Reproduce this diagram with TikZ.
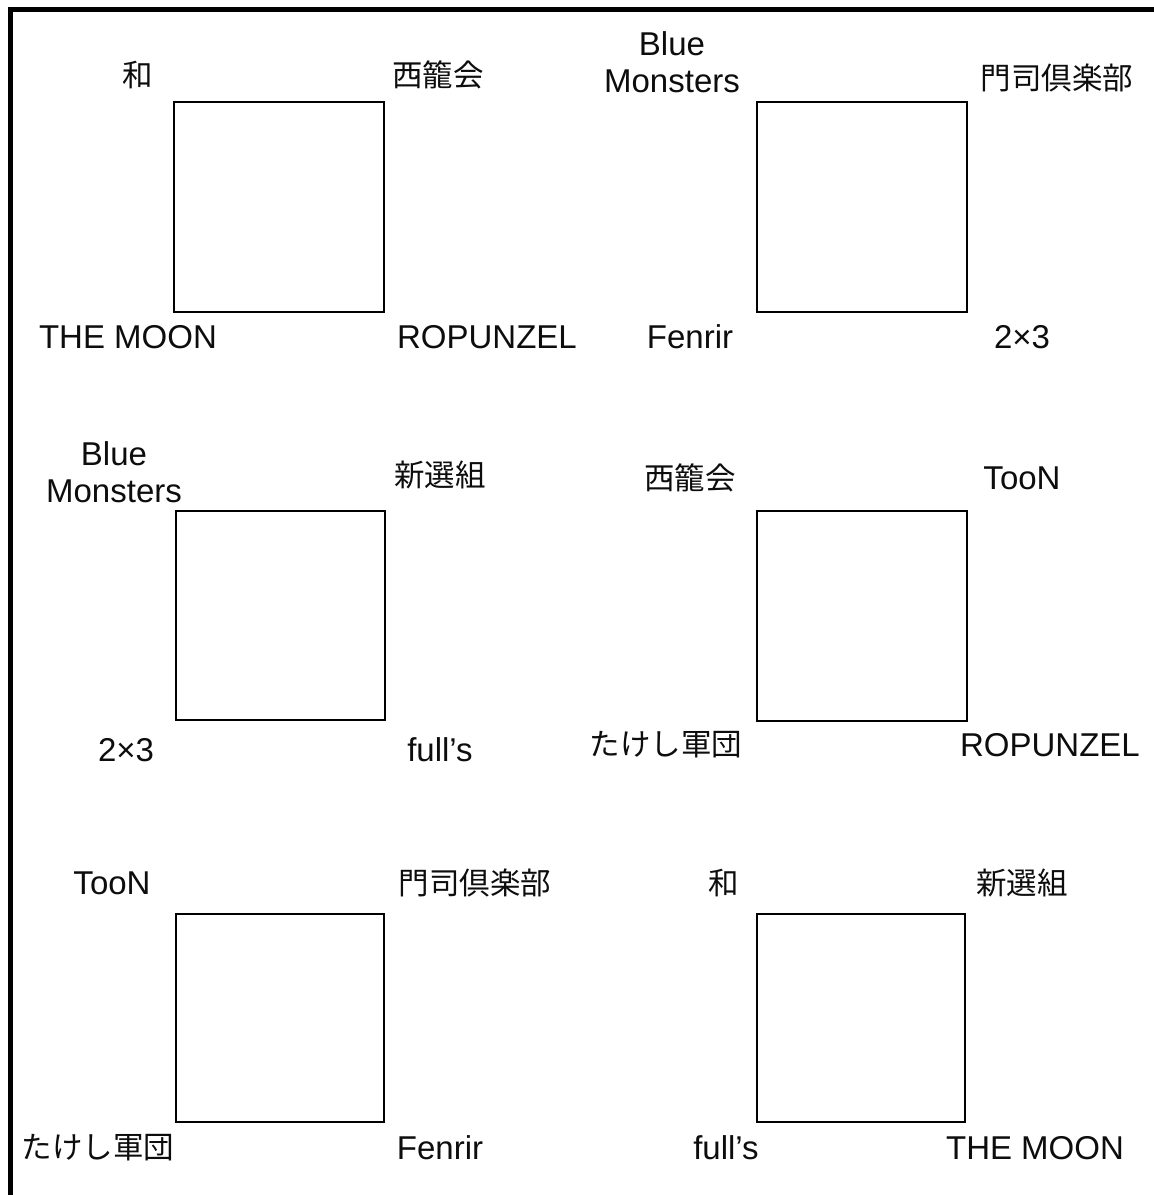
\documentclass[tikz,border=0pt]{standalone}
\usepackage{fontspec}
\setmainfont{Liberation Sans}
\newfontfamily\jpfont{Noto Sans CJK JP}
\begin{document}
\begin{tikzpicture}[x=1pt,y=-1pt,
  box/.style={draw=black,line width=2pt,minimum width=#1,minimum height=#1,inner sep=0pt,anchor=north west},
  lab/.style={font=\fontsize{33}{37}\selectfont,inner sep=0pt,align=center,text=black!95},
  jlab/.style={font=\jpfont\fontsize{30.5}{36}\selectfont,inner sep=0pt,align=center,text=black!95}]
\useasboundingbox (0,0) rectangle (1154,1195);
\fill[white] (0,0) rectangle (1154,1195);
\coordinate (fb) at (10.5,1195);
\coordinate (fc) at (10.5,9.5);
\coordinate (fr) at (1154,9.5);
\draw[line width=5pt] (fb) -- (fc) -- (fr);
% squares
\node[box=210pt] (s1) at (173,101) {};
\node[box=210pt] (s2) at (756,101) {};
\node[box=209pt] (s3) at (175,510) {};
\node[box=210pt] (s4) at (756,510) {};
\node[box=208pt] (s5) at (175,913) {};
\node[box=208pt] (s6) at (756,913) {};
% row 1 left
\node[jlab] (a1) at (138,75) {和};
\node[jlab] (a2) at (438,75) {西籠会};
\node[lab] (a3) at (128,337) {THE MOON};
\node[lab] (a4) at (487,337) {ROPUNZEL};
% row 1 right
\node[lab] (b1) at (672,62) {Blue\\Monsters};
\node[jlab] (b2) at (1057,78) {門司倶楽部};
\node[lab] (b3) at (690,337) {Fenrir};
\node[lab] (b4) at (1022,337) {2×3};
% row 2 left
\node[lab] (c1) at (114,472) {Blue\\Monsters};
\node[jlab] (c2) at (440,475) {新選組};
\node[lab] (c3) at (126,750) {2×3};
\node[lab] (c4) at (440,750) {full’s};
% row 2 right
\node[jlab] (d1) at (690,478) {西籠会};
\node[lab] (d2) at (1022,478) {TooN};
\node[jlab] (d3) at (666,745) {たけし軍団};
\node[lab] (d4) at (1050,745) {ROPUNZEL};
% row 3 left
\node[lab] (e1) at (112,883) {TooN};
\node[jlab] (e2) at (475,883) {門司倶楽部};
\node[jlab] (e3) at (98,1148) {たけし軍団};
\node[lab] (e4) at (440,1148) {Fenrir};
% row 3 right
\node[jlab] (f1) at (724,883) {和};
\node[jlab] (f2) at (1022,883) {新選組};
\node[lab] (f3) at (726,1148) {full’s};
\node[lab] (f4) at (1035,1148) {THE MOON};
\end{tikzpicture}
\end{document}
